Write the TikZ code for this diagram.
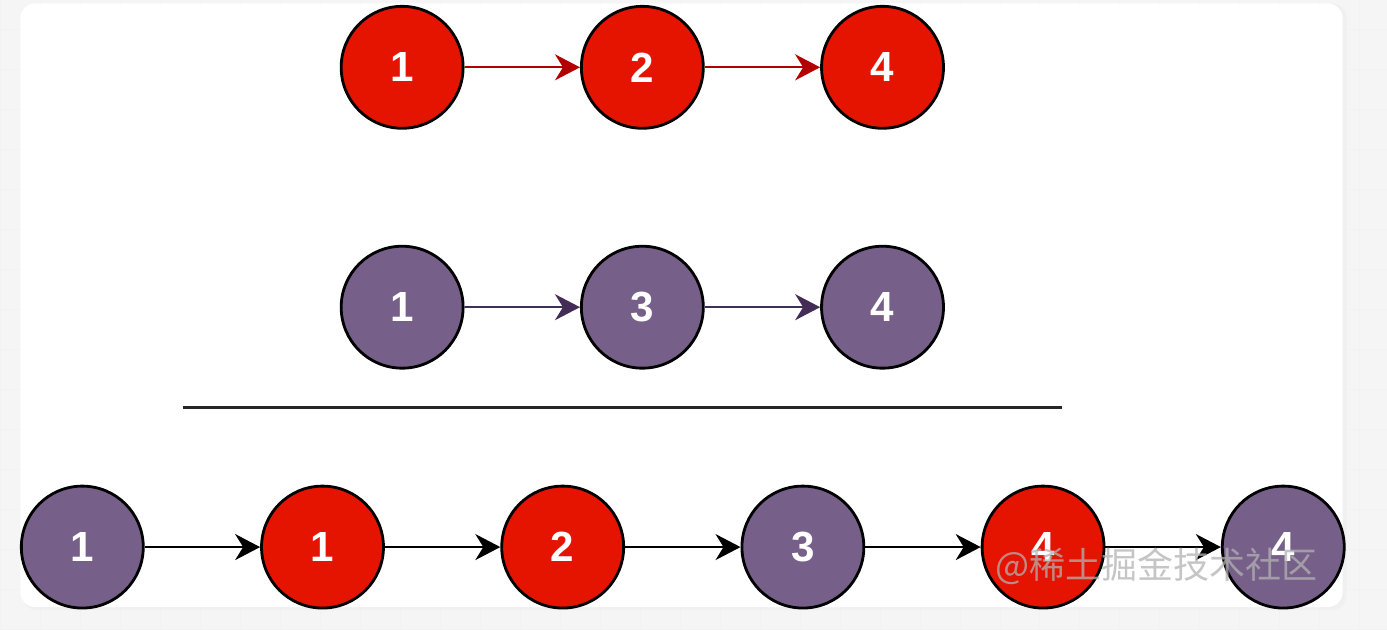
\documentclass[tikz,border=0pt]{standalone}
\usepackage{fontspec}
\setmainfont{Liberation Sans}
\newfontfamily\cjk{Noto Sans CJK SC}
\usetikzlibrary{arrows.meta,positioning}
\definecolor{nodered}{HTML}{E51400}
\definecolor{darkred}{HTML}{B20000}
\definecolor{violet}{HTML}{76608A}
\definecolor{darkviolet}{HTML}{432D57}
\definecolor{paper}{HTML}{F5F5F5}
\tikzset{
  listnode/.style={circle,draw=black,line width=1.6pt,minimum size=2.44cm,inner sep=0pt,text=white,font=\fontsize{24}{24}\selectfont\bfseries},
  rednode/.style={listnode,fill=nodered},
  violetnode/.style={listnode,fill=violet},
  link/.style={-{Stealth[length=5mm,width=5.2mm,inset=1.6mm]},line width=1.1pt}
}
\begin{document}
\begin{tikzpicture}[node distance=2.31cm]
        % backdrop
        \fill[paper] (0,0) rectangle (27.74,12.58);
        \draw[gray!10,step=0.8] (0,0) grid (27.74,12.58);
        \fill[gray!12,rounded corners=3mm] (0.44,0.38) rectangle (26.94,12.52);
        \fill[white,rounded corners=3mm] (0.4,0.44) rectangle (26.86,12.52);
        % first list
        \node[rednode] (a1) at (8.04,11.24) {1};
        \node[rednode,right=of a1] (a2) {2};
        \node[rednode,right=of a2] (a4) {4};
        \draw[link,draw=darkred] (a1) -- (a2);
        \draw[link,draw=darkred] (a2) -- (a4);
        % second list
        \node[violetnode] (b1) at (8.04,6.44) {1};
        \node[violetnode,right=of b1] (b3) {3};
        \node[violetnode,right=of b3] (b4) {4};
        \draw[link,draw=darkviolet] (b1) -- (b3);
        \draw[link,draw=darkviolet] (b3) -- (b4);
        % divider
        \coordinate (sl) at (3.66,4.44);
        \coordinate (sr) at (21.24,4.44);
        \draw[line width=1.7pt,black!85] (sl) -- (sr);
        % merged list
        \node[violetnode] (m1) at (1.64,1.64) {1};
        \node[rednode,right=of m1] (m2) {1};
        \node[rednode,right=of m2] (m3) {2};
        \node[violetnode,right=of m3] (m4) {3};
        \node[rednode,right=of m4] (m5) {4};
        \node[violetnode,right=of m5] (m6) {4};
        \foreach \i/\j in {m1/m2,m2/m3,m3/m4,m4/m5,m5/m6}
          \draw[link] (\i) -- (\j);
        % watermark
        \node[text=gray!60,opacity=0.75,font=\cjk\fontsize{20.5}{20.5}\selectfont] (mark) at (23.14,1.26) {@稀土掘金技术社区};
      \end{tikzpicture}
\end{document}
